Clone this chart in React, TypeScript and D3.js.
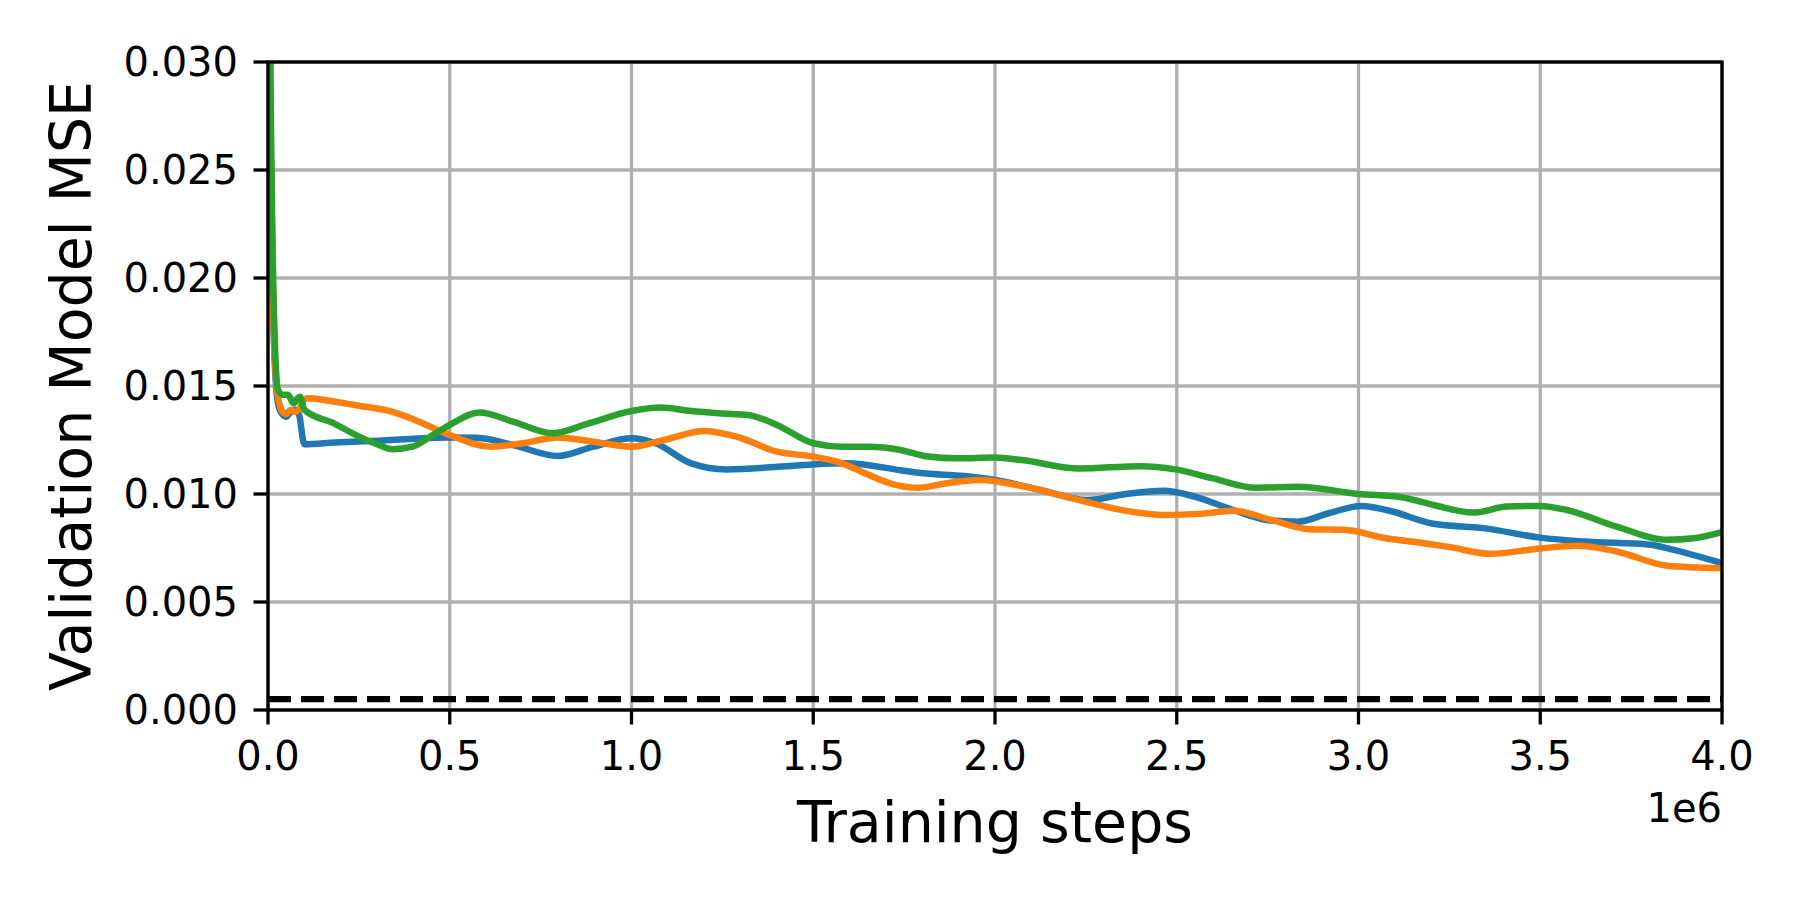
import * as d3 from "d3";

const blueSteps = [0, 0.008, 0.015, 0.025, 0.035, 0.05, 0.062, 0.075, 0.085, 0.1, 0.184, 0.306, 0.5, 0.576, 0.674, 0.797, 0.895, 1.0, 1.066, 1.164, 1.262, 1.41, 1.5, 1.59, 1.74, 1.79, 1.916, 2.0, 2.127, 2.253, 2.36, 2.464, 2.549, 2.655, 2.76, 2.833, 2.918, 3.007, 3.08, 3.206, 3.344, 3.5, 3.62, 3.803, 3.858, 4.0];
const blueMse = [0.04, 0.025, 0.018, 0.0145, 0.0138, 0.01358, 0.0138, 0.0139, 0.0137, 0.0123, 0.01238, 0.01247, 0.01262, 0.0126, 0.01227, 0.01176, 0.01219, 0.01258, 0.01235, 0.01142, 0.01114, 0.01127, 0.01137, 0.01142, 0.0111, 0.01098, 0.01083, 0.01065, 0.01018, 0.00972, 0.01, 0.01015, 0.00988, 0.00926, 0.00877, 0.00872, 0.00911, 0.00945, 0.00925, 0.00862, 0.00842, 0.00798, 0.0078, 0.00765, 0.00745, 0.0068];

const orangeSteps = [0, 0.008, 0.015, 0.025, 0.04, 0.05, 0.062, 0.075, 0.085, 0.095, 0.11, 0.184, 0.245, 0.343, 0.404, 0.5, 0.613, 0.7, 0.797, 0.895, 1.0, 1.09, 1.2, 1.29, 1.4, 1.5, 1.58, 1.65, 1.72, 1.79, 1.863, 1.958, 2.074, 2.232, 2.36, 2.464, 2.56, 2.655, 2.76, 2.865, 2.96, 3.076, 3.18, 3.252, 3.362, 3.5, 3.6, 3.71, 3.849, 4.0];
const orangeMse = [0.04, 0.025, 0.018, 0.0148, 0.0138, 0.0137, 0.0139, 0.0138, 0.0139, 0.0143, 0.01443, 0.01427, 0.0141, 0.0138, 0.01343, 0.01273, 0.01219, 0.01235, 0.01262, 0.01242, 0.01219, 0.0125, 0.01292, 0.01265, 0.01196, 0.01173, 0.01142, 0.0109, 0.01045, 0.01029, 0.01049, 0.01065, 0.01037, 0.00972, 0.00922, 0.00903, 0.00908, 0.00922, 0.0088, 0.00837, 0.00834, 0.00795, 0.00772, 0.00754, 0.00723, 0.00748, 0.0076, 0.00734, 0.00668, 0.00657];

const greenSteps = [0, 0.006, 0.012, 0.02, 0.028, 0.04, 0.055, 0.07, 0.08, 0.088, 0.1, 0.184, 0.245, 0.3, 0.343, 0.4, 0.45, 0.5, 0.582, 0.674, 0.784, 0.882, 1.0, 1.08, 1.164, 1.25, 1.32, 1.4, 1.5, 1.58, 1.653, 1.74, 1.81, 1.895, 2.0, 2.074, 2.232, 2.4, 2.496, 2.6, 2.717, 2.833, 3.0, 3.118, 3.206, 3.317, 3.408, 3.5, 3.573, 3.71, 3.849, 3.922, 4.0];
const greenMse = [0.045, 0.03, 0.022, 0.0165, 0.0148, 0.0146, 0.0146, 0.0142, 0.0144, 0.0145, 0.0139, 0.01325, 0.0127, 0.0123, 0.01207, 0.0122, 0.0127, 0.0132, 0.01377, 0.01335, 0.01281, 0.01327, 0.01384, 0.014, 0.01384, 0.01373, 0.01366, 0.0132, 0.01235, 0.01219, 0.01219, 0.01204, 0.01175, 0.01165, 0.01169, 0.01157, 0.01118, 0.01129, 0.01114, 0.01072, 0.01029, 0.01034, 0.01, 0.00985, 0.00949, 0.00914, 0.00942, 0.00945, 0.00926, 0.00849, 0.00788, 0.00795, 0.00823];

const baselineMse = 0.0005;
const xTicks = [0, 0.5, 1.0, 1.5, 2.0, 2.5, 3.0, 3.5, 4.0];
const yTicks = [0, 0.005, 0.01, 0.015, 0.02, 0.025, 0.03];

const series = [
  { steps: blueSteps, mse: blueMse, color: "#1f77b4" },
  { steps: orangeSteps, mse: orangeMse, color: "#ff7f0e" },
  { steps: greenSteps, mse: greenMse, color: "#2ca02c" },
];

export default function App() {
  const width = 1800;
  const height = 900;
  const left = 268, right = 1722, top = 62, bottom = 710;

  const x = d3.scaleLinear().domain([0, 4]).range([left, right]);
  const y = d3.scaleLinear().domain([0, 0.03]).range([bottom, top]);

  const line = d3.line<[number, number]>()
    .x((d) => x(d[0]))
    .y((d) => y(d[1]))
    .curve(d3.curveMonotoneX);

  const font = "DejaVu Sans, sans-serif";
  const tickLen = 14.5;

  return (
    <svg width={width} height={height} style={{ position: "absolute", left: 0, top: 0 }} fontFamily={font}>
      <rect width={width} height={height} fill="white" />
      <defs>
        <clipPath id="plot">
          <rect x={left} y={top} width={right - left} height={bottom - top} />
        </clipPath>
      </defs>

      {/* grid */}
      {xTicks.map((t) => (
        <line key={"gx" + t} x1={x(t)} x2={x(t)} y1={top} y2={bottom} stroke="#b0b0b0" strokeWidth={3.3} />
      ))}
      {yTicks.map((t) => (
        <line key={"gy" + t} x1={left} x2={right} y1={y(t)} y2={y(t)} stroke="#b0b0b0" strokeWidth={3.3} />
      ))}

      <g clipPath="url(#plot)">
        {series.map((s) => (
          <path
            key={s.color}
            d={line(s.steps.map((st, i) => [st, s.mse[i]] as [number, number])) || ""}
            fill="none"
            stroke={s.color}
            strokeWidth={6.5}
            strokeLinejoin="round"
            strokeLinecap="square"
          />
        ))}
        <line x1={x(0)} x2={x(4)} y1={y(baselineMse)} y2={y(baselineMse)} stroke="black" strokeWidth={6.25} strokeDasharray="23 10" />
      </g>

      {/* spines */}
      <rect x={left} y={top} width={right - left} height={bottom - top} fill="none" stroke="black" strokeWidth={3.3} />

      {/* x ticks */}
      {xTicks.map((t) => (
        <g key={"xt" + t}>
          <line x1={x(t)} x2={x(t)} y1={bottom} y2={bottom + tickLen} stroke="black" strokeWidth={3.3} />
          <text x={x(t)} y={770} textAnchor="middle" fontSize={40}>{t.toFixed(1)}</text>
        </g>
      ))}
      {/* y ticks */}
      {yTicks.map((t) => (
        <g key={"yt" + t}>
          <line x1={left - tickLen} x2={left} y1={y(t)} y2={y(t)} stroke="black" strokeWidth={3.3} />
          <text x={238} y={y(t)} dy="0.36em" textAnchor="end" fontSize={40}>{t.toFixed(3)}</text>
        </g>
      ))}

      <text x={right} y={822} textAnchor="end" fontSize={40}>1e6</text>
      <text x={(left + right) / 2} y={842} textAnchor="middle" fontSize={57}>Training steps</text>
      <text transform={`translate(91, ${(top + bottom) / 2}) rotate(-90)`} textAnchor="middle" fontSize={57}>Validation Model MSE</text>
    </svg>
  );
}
